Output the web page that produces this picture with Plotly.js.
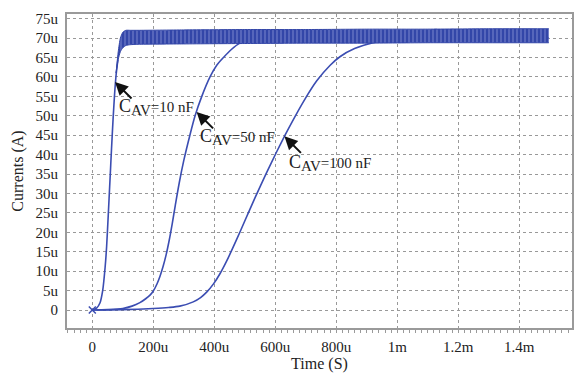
<!DOCTYPE html>
<html>
<head>
<meta charset="utf-8">
<script src="https://cdn.plot.ly/plotly-3.0.1.min.js"></script>
<style>html,body{margin:0;padding:0;background:#fff}#chart{width:577px;height:373px}</style>
</head>
<body>
<div id="chart"></div>
<script>
// time in microseconds, current in microamps
const t10 = [0, 14, 25, 34, 42, 47, 52, 58, 63, 68, 73, 78, 84];
const i10 = [0, 0.5, 1.8, 5, 11, 16.4, 24, 33.5, 41.5, 49, 55.5, 60.5, 64.5];
const tBand = [78, 85, 92, 100, 110, 125, 150, 300, 500, 700, 900, 1100, 1300, 1497];
const upBand = [61, 66.5, 70, 71.5, 72.0, 72.0, 72.0, 72.1, 72.2, 72.2, 72.3, 72.3, 72.4, 72.4];
const loBand = [61, 64.5, 66.5, 67.5, 68.1, 68.3, 68.4, 68.5, 68.6, 68.7, 68.7, 68.8, 68.8, 68.8];
const t50 = [0, 50, 100, 130, 156, 175, 190, 200, 212, 222, 232, 242, 252, 262, 272, 285, 300, 320, 337, 359, 386, 408, 430, 455, 484, 520, 600, 800, 1000, 1200, 1497];
const i50 = [0, 0.1, 0.4, 1.0, 1.9, 2.9, 3.9, 4.9, 6.7, 8.7, 11.2, 14.2, 17.9, 22.2, 26.9, 32.7, 38.5, 45, 50, 55, 60, 63, 65, 67, 68.7, 69.5, 70, 70, 70, 70, 70];
const t100 = [0, 100, 200, 250, 287, 331, 355, 375, 398, 419, 446, 473, 501, 533, 570, 605, 632, 657, 692, 736, 780, 812, 860, 921, 970, 1050, 1200, 1497];
const i100 = [0, 0.1, 0.4, 0.65, 1, 2.1, 3.2, 4.6, 6.8, 9.4, 13.5, 18.1, 23.1, 28.8, 35.1, 40.8, 45.0, 48.7, 53.6, 59.0, 63.0, 65.2, 67.3, 68.8, 69.4, 69.8, 70, 70];
const xTicks = [0, 200, 400, 600, 800, 1000, 1200, 1400];
const xTickText = ['0', '200u', '400u', '600u', '800u', '1m', '1.2m', '1.4m'];
const yTicks = [0, 5, 10, 15, 20, 25, 30, 35, 40, 45, 50, 55, 60, 65, 70, 75];
const yTickText = ['0', '5u', '10u', '15u', '20u', '25u', '30u', '35u', '40u', '45u', '50u', '55u', '60u', '65u', '70u', '75u'];
const labelValues = ['10 nF', '50 nF', '100 nF'];
const arrowTips = [[74.5, 58.7], [342, 51], [630, 44.7]];
const labelPos = [[80, 52.2], [345, 44.5], [637, 37.8]];

const blue = '#3b4db2';
const serif = 'Liberation Serif, Times New Roman, serif';
const traces = [
  {x: t50, y: i50, mode: 'lines', line: {color: blue, width: 1.6, shape: 'spline', smoothing: 0.8}, showlegend: false},
  {x: t100, y: i100, mode: 'lines', line: {color: blue, width: 1.6, shape: 'spline', smoothing: 0.8}, showlegend: false},
  {x: t10, y: i10, mode: 'lines', line: {color: blue, width: 1.6, shape: 'spline', smoothing: 0.6}, showlegend: false},
  {x: tBand, y: loBand, mode: 'lines', line: {color: '#3346a8', width: 1, shape: 'spline', smoothing: 0.6}, showlegend: false},
  {x: tBand, y: upBand, mode: 'lines', fill: 'tonexty', fillcolor: '#3346a8',
   fillpattern: {shape: '|', bgcolor: '#3346a8', fgcolor: '#6e7cc8', size: 4, solidity: 0.3},
   line: {color: '#3346a8', width: 1, shape: 'spline', smoothing: 0.6}, showlegend: false},
  {x: [0], y: [0], mode: 'markers', marker: {symbol: 'x-thin', size: 7, line: {color: blue, width: 1.5}}, showlegend: false}
];

const annotations = [];
for (let k = 0; k < labelValues.length; k++) {
  annotations.push({x: arrowTips[k][0], y: arrowTips[k][1], xref: 'x', yref: 'y', text: '', showarrow: true,
    arrowhead: 2, arrowsize: 1.3, arrowwidth: 2, arrowcolor: '#111', ax: 18, ay: 18, standoff: 0});
  annotations.push({x: labelPos[k][0], y: labelPos[k][1], xref: 'x', yref: 'y',
    text: '<span style="font-size:18px">C</span><sub><span style="font-size:15px">AV</span></sub>=' + labelValues[k],
    showarrow: false, xanchor: 'left', yanchor: 'middle', font: {family: serif, size: 15, color: '#222'}});
}

const layout = {
  width: 577, height: 373,
  margin: {l: 67, r: 5, t: 14, b: 45},
  paper_bgcolor: '#fff', plot_bgcolor: '#fff',
  font: {family: serif, size: 15, color: '#222'},
  xaxis: {
    range: [-83, 1573], tickvals: xTicks, ticktext: xTickText,
    showgrid: true, gridcolor: '#999', griddash: 'dot', gridwidth: 1,
    zeroline: false, showline: true, mirror: true, linecolor: '#9a9a9a', linewidth: 2,
    ticks: '', ticklabelstandoff: 4,
    minor: {dtick: 20, ticks: 'outside', ticklen: 3, tickcolor: '#9a9a9a', showgrid: false},
    title: {text: 'Time (S)', font: {family: serif, size: 16, color: '#222'}, standoff: 4},
    tickfont: {family: serif, size: 15, color: '#222'}
  },
  yaxis: {
    range: [-4.63, 76.2], tickvals: yTicks, ticktext: yTickText,
    showgrid: true, gridcolor: '#999', griddash: 'dot', gridwidth: 1,
    zeroline: false, showline: true, mirror: true, linecolor: '#9a9a9a', linewidth: 2,
    ticks: '', ticklabelstandoff: 4,
    title: {text: 'Currents (A)', font: {family: serif, size: 16, color: '#222'}, standoff: 8},
    tickfont: {family: serif, size: 15, color: '#222'}
  },
  annotations: annotations
};

Plotly.newPlot('chart', traces, layout, {displayModeBar: false, staticPlot: true});
</script>
</body>
</html>
